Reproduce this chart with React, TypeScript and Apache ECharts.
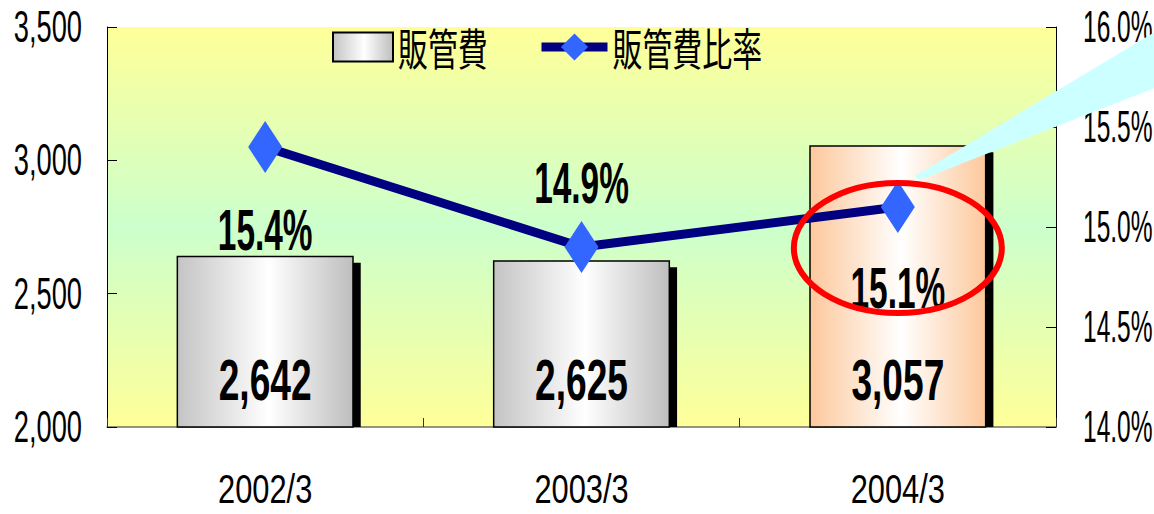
import React, { useEffect, useRef } from "react";
import * as echarts from "echarts";

const categories = ["2002/3", "2003/3", "2004/3"];
const expenses = [2642, 2625, 3057];
const ratios = [15.4, 14.9, 15.1];
const leftTicks = { min: 2000, max: 3500, interval: 500 };
const rightTicks = { min: 14, max: 16, interval: 0.5 };
const ratioLabelOffsets = [[0, 83], [0, -64], [0, 81]];

const FONT = "'Liberation Sans', Arial, sans-serif";
const CJK = "'Noto Sans CJK JP', 'Noto Sans CJK SC', sans-serif";

const grayGrad = () =>
  new echarts.graphic.LinearGradient(0, 0, 1, 0, [
    { offset: 0, color: "#C4C4C4" },
    { offset: 0.52, color: "#FFFFFF" },
    { offset: 1, color: "#BEBEBE" },
  ]);
const peachGrad = () =>
  new echarts.graphic.LinearGradient(0, 0, 1, 0, [
    { offset: 0, color: "#FDC89C" },
    { offset: 0.52, color: "#FFFFFF" },
    { offset: 1, color: "#FDC89C" },
  ]);

// The reference uses a tall, condensed face; squeeze texts horizontally about their anchor.
function squeezeTexts(root: HTMLElement) {
  root.querySelectorAll("text").forEach((t) => {
    if (t.getAttribute("data-sq")) return;
    const txt = t.textContent || "";
    const isCJK = /[\u3040-\u9fff]/.test(txt);
    const fw = getComputedStyle(t).fontWeight;
    const bold = fw === "bold" || parseInt(fw, 10) >= 600;
    let sx = isCJK ? 0.68 : bold ? 0.64 : 0.62;
    if (!isCJK && txt.includes("%")) sx *= 0.9;
    if (txt.includes("/")) sx = 0.77;
    const x = parseFloat(t.getAttribute("x") || "0") || 0;
    const y = parseFloat(t.getAttribute("y") || "0") || 0;
    t.removeAttribute("x");
    t.removeAttribute("y");
    const tr = t.getAttribute("transform") || "";
    t.setAttribute("transform", `${tr} translate(${x} ${y}) scale(${sx} 1)`.trim());
    t.setAttribute("data-sq", "1");
  });
}

export default function App() {
  const ref = useRef<HTMLDivElement>(null);
  useEffect(() => {
    if (!ref.current) return;
    const el = ref.current;
    const chart = echarts.init(el, undefined, { renderer: "svg" });
    const BAR_W = 0.56;
    const option: any = {
      animation: false,
      backgroundColor: "#FFFFFF",
      grid: {
        left: 107,
        right: 98,
        top: 27,
        bottom: 87,
        containLabel: false,
        outerBoundsMode: "none",
        show: true,
        borderWidth: 0,
        backgroundColor: new echarts.graphic.LinearGradient(0, 0, 0, 1, [
          { offset: 0, color: "#FFFF99" },
          { offset: 0.5, color: "#CCFFCC" },
          { offset: 1, color: "#FFFF99" },
        ]),
      },
      legend: [
        {
          data: [{ name: "販管費", icon: "rect" }],
          left: 327,
          top: 20,
          itemWidth: 60,
          itemHeight: 29,
          itemGap: 0,
          selectedMode: false,
          textStyle: { fontFamily: CJK, fontSize: 44, color: "#000" },
        },
        {
          data: ["販管費比率"],
          left: 532,
          top: 20,
          itemWidth: 66,
          itemHeight: 34,
          selectedMode: false,
          lineStyle: { width: 9, color: "#000080" },
          textStyle: { fontFamily: CJK, fontSize: 44, color: "#000" },
        },
      ],
      xAxis: {
        type: "category",
        data: categories,
        boundaryGap: true,
        axisLine: { show: true, lineStyle: { color: "#707070", width: 1.5 } },
        axisTick: { show: true, inside: true, length: 9, lineStyle: { color: "#333" } },
        axisLabel: { margin: 45, fontFamily: FONT, fontSize: 40, lineHeight: 36, color: "#000" },
        splitLine: { show: false },
      },
      yAxis: [
        {
          type: "value",
          ...leftTicks,
          axisLine: { show: true, lineStyle: { color: "#000", width: 1 } },
          axisTick: { show: true, inside: true, length: 10, lineStyle: { color: "#000" } },
          axisLabel: {
            margin: 25,
            fontFamily: FONT,
            fontSize: 44,
            color: "#000",
            formatter: (v: number) => v.toLocaleString("en-US"),
          },
          splitLine: { show: false },
        },
        {
          type: "value",
          ...rightTicks,
          axisLine: { show: true, lineStyle: { color: "#000", width: 1 } },
          axisTick: { show: true, inside: true, length: 10, lineStyle: { color: "#000" } },
          axisLabel: {
            margin: 27,
            fontFamily: FONT,
            fontSize: 44,
            color: "#000",
            formatter: (v: number) => v.toFixed(1) + "%",
          },
          splitLine: { show: false },
        },
      ],
      series: [
        {
          type: "custom",
          name: "shadow",
          z: 1,
          silent: true,
          data: expenses.map((v, i) => [i, v]),
          renderItem: (params: any, api: any) => {
            const top = api.coord([api.value(0), api.value(1)]);
            const base = api.coord([api.value(0), leftTicks.min]);
            const band = api.size([1, 0])[0];
            const w = band * BAR_W;
            return {
              type: "rect",
              shape: { x: top[0] - w / 2 + 7, y: top[1] + 7, width: w, height: base[1] - top[1] - 7 },
              style: { fill: "#000" },
            };
          },
        },
        {
          type: "bar",
          name: "販管費",
          z: 2,
          silent: true,
          barWidth: BAR_W * 100 + "%",
          data: expenses.map((v, i) => ({
            value: v,
            itemStyle: { color: i === 2 ? peachGrad() : grayGrad() },
          })),
          itemStyle: { color: grayGrad(), borderColor: "#000", borderWidth: 1.5 },
          label: {
            show: true,
            position: "insideBottom",
            distance: 19,
            fontFamily: FONT,
            fontWeight: "bold",
            fontSize: 58,
            color: "#000",
            formatter: (p: any) => p.value.toLocaleString("en-US"),
          },
        },
        {
          type: "line",
          name: "販管費比率",
          yAxisIndex: 1,
          z: 5,
          silent: true,
          data: ratios.map((v, i) => ({
            value: v,
            label: { offset: ratioLabelOffsets[i] },
          })),
          lineStyle: { color: "#000080", width: 9 },
          itemStyle: { color: "#3366FF" },
          symbol: "diamond",
          symbolSize: [34, 52],
          label: {
            show: true,
            position: "inside",
            fontFamily: FONT,
            fontWeight: "bold",
            fontSize: 58,
            color: "#000",
            formatter: (p: any) => p.value.toFixed(1) + "%",
          },
        },
      ],
    };
    chart.setOption(option);

    const p = chart.convertToPixel({ seriesIndex: 2 }, [2, ratios[2]]) as number[];
    if (p) {
      const cx = p[0];
      const py = p[1];
      chart.setOption({
        graphic: [
          {
            type: "polygon",
            z: 20,
            silent: true,
            shape: {
              points: [
                [cx + 17, py - 31],
                [1160, 29],
                [1160, 86],
                [cx + 22, py - 27],
              ],
            },
            style: { fill: "#CCFFFF" },
          },
          {
            type: "ellipse",
            z: 21,
            silent: true,
            shape: { cx, cy: py + 41, rx: 104, ry: 65 },
            style: { fill: "none", stroke: "#FF0000", lineWidth: 6 },
          },
        ],
      });
    }
    const run = () => squeezeTexts(el);
    chart.on("finished", run);
    run();
    const t1 = setTimeout(run, 0);
    const t2 = setTimeout(run, 100);
    return () => {
      clearTimeout(t1);
      clearTimeout(t2);
      chart.dispose();
    };
  }, []);
  return <div ref={ref} style={{ width: 1154, height: 514, position: "absolute", left: 0, top: 0 }} />;
}
